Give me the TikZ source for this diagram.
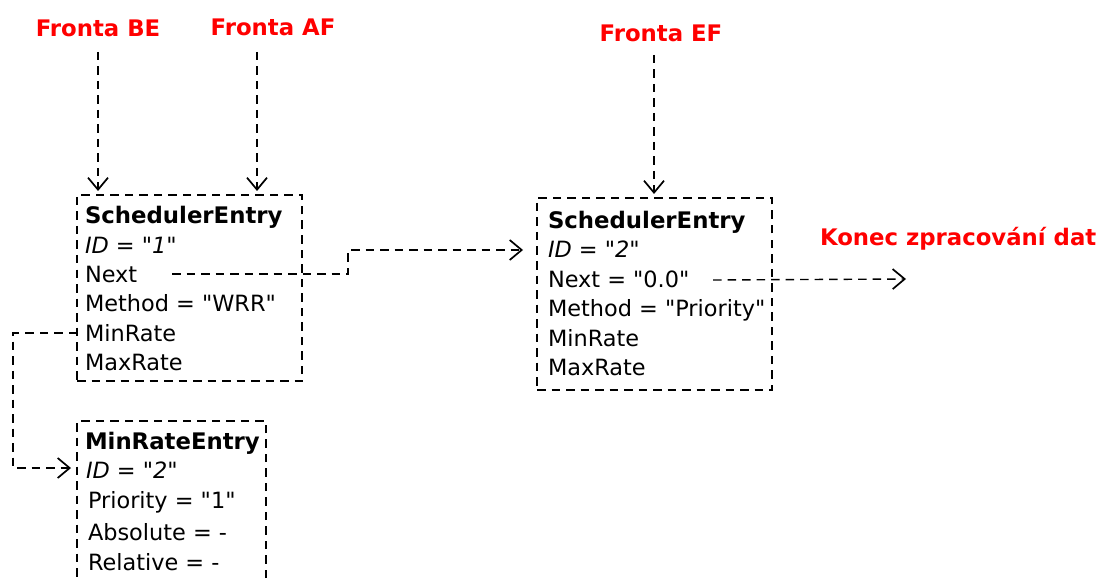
\documentclass[tikz,border=0pt]{standalone}
\usepackage{fontspec}
\setmainfont{DejaVu Sans}
\usetikzlibrary{arrows.meta}
\newcommand\qq{\textquotedbl}
\begin{document}
\begin{tikzpicture}[x=1pt,y=-1pt,
  every node/.style={inner sep=0pt,outer sep=0pt,font=\fontsize{22.4}{26}\selectfont},
  txt/.style={anchor=base west},
  hd/.style={anchor=base west,font=\fontsize{22.8}{26}\selectfont\bfseries},
  lbl/.style={anchor=base,text=red,font=\fontsize{22.8}{26}\selectfont\bfseries},
  dbox/.style={draw=black,line width=1.4pt,dash pattern=on 8.5pt off 6pt},
  conn/.style={draw=black,line width=1.4pt,dash pattern=on 8.5pt off 6pt,
    -{Straight Barb[length=12pt,width=20pt,line width=1.7pt]}}]
\useasboundingbox (0,0) rectangle (1103,580);
\clip (0,0) rectangle (1103,580);

% labels
\node[lbl] (fbe) at (98,37) {Fronta BE};
\node[lbl] (faf) at (273,36) {Fronta AF};
\node[lbl] (fef) at (661,42) {Fronta EF};
\node[lbl,anchor=base west] (konec) at (820,245) {Konec zpracování dat};

% box 1
\node[dbox,minimum width=225pt,minimum height=186pt,anchor=north west] (b1) at (77,195) {};
\node[hd] (b1h) at (85,224) {SchedulerEntry};
\node[txt] (b1id) at (85,253) {\itshape ID = \qq1\qq};
\node[txt] (b1next) at (85,282) {Next};
\node[txt] (b1meth) at (85,311) {Method = \qq WRR\qq};
\node[txt] (b1min) at (85,341) {MinRate};
\node[txt] (b1max) at (85,370) {MaxRate};

% box 2
\node[dbox,minimum width=235pt,minimum height=192pt,anchor=north west] (b2) at (537,198) {};
\node[hd] (b2h) at (548,229) {SchedulerEntry};
\node[txt] (b2id) at (548,258) {\itshape ID = \qq2\qq};
\node[txt] (b2next) at (548,287) {Next = \qq0.0\qq};
\node[txt] (b2meth) at (548,316) {Method = \qq Priority\qq};
\node[txt] (b2min) at (548,346) {MinRate};
\node[txt] (b2max) at (548,375) {MaxRate};

% box 3
\node[dbox,minimum width=189pt,minimum height=200pt,anchor=north west] (b3) at (77,421) {};
\node[hd] (b3h) at (85,449) {MinRateEntry};
\node[txt] (b3id) at (86,478) {\itshape ID = \qq2\qq};
\node[txt] (b3prio) at (88,508) {Priority = \qq1\qq};
\node[txt] (b3abs) at (88,540) {Absolute = -};
\node[txt] (b3rel) at (88,570) {Relative = -};

% coordinates
\coordinate (beS) at (98,52);
\coordinate (beE) at (98,191);
\coordinate (afS) at (257,52);
\coordinate (afE) at (257,191);
\coordinate (efS) at (654,55);
\coordinate (efE) at (654,194);
\coordinate (n1S) at (172,274);
\coordinate (n1M) at (348,274);
\coordinate (n1E) at (523,250);
\coordinate (m1S) at (77,333);
\coordinate (m1L) at (13,333);
\coordinate (m1E) at (71,468);
\coordinate (n2S) at (713,280);
\coordinate (n2E) at (906,279);

% connectors
\draw[conn] (beS) -- (beE);
\draw[conn] (afS) -- (afE);
\draw[conn] (efS) -- (efE);
\draw[conn] (n1S) -- (n1M) |- (n1E);
\draw[conn] (m1S) -- (m1L) |- (m1E);
\draw[conn] (n2S) -- (n2E);
\end{tikzpicture}
\end{document}
